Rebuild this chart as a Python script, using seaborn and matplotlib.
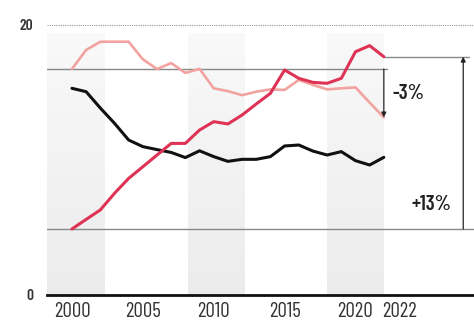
import numpy as np
import pandas as pd
import matplotlib
matplotlib.use("Agg")
import matplotlib.pyplot as plt
import matplotlib.transforms as mtransforms
from matplotlib import font_manager
import seaborn as sns

years = list(range(2000, 2023))
series_pink = [16.74, 18.15, 18.76, 18.76, 18.76, 17.46, 16.74, 17.18, 16.45, 16.75, 15.31, 15.10,
               14.80, 15.06, 15.23, 15.19, 15.93, 15.56, 15.23, 15.31, 15.38, 14.25, 13.16]
series_red = [4.89, 5.60, 6.30, 7.53, 8.64, 9.50, 10.37, 11.23, 11.23, 12.22, 12.84, 12.67,
              13.33, 14.15, 14.94, 16.67, 16.05, 15.75, 15.68, 16.05, 18.02, 18.47, 17.65]
series_black = [15.31, 15.06, 13.85, 12.72, 11.48, 10.99, 10.77, 10.56, 10.18, 10.68, 10.25, 9.90,
                10.05, 10.05, 10.25, 11.04, 11.11, 10.66, 10.37, 10.62, 9.95, 9.63, 10.20]
tick_years = [2000, 2005, 2010, 2015, 2020, 2022]
change_labels = ["-3%", "+13%"]
bands = [(1998.2, 2002.3), (2008.2, 2012.2), (2018.0, 2022.0)]

sns.set_style("white")
available = {f.name for f in font_manager.fontManager.ttflist}
narrow_candidates = ["Barlow Condensed", "Roboto Condensed", "Archivo Narrow",
                     "PT Sans Narrow", "Liberation Sans Narrow", "Roboto"]
narrow = next(n for n in narrow_candidates + ["DejaVu Sans"] if n in available or n == "DejaVu Sans")
plt.rcParams["font.family"] = [narrow, "DejaVu Sans"]

df = pd.DataFrame({
    "year": years * 3,
    "value": series_pink + series_red + series_black,
    "series": ["pink"] * len(years) + ["red"] * len(years) + ["black"] * len(years),
})
palette = {"pink": "#f2a3a0", "red": "#de3355", "black": "#111111"}

fig = plt.figure(figsize=(4.74, 3.25), dpi=100)
ax = fig.add_axes([47 / 474, 30 / 325, 427 / 474, 270 / 325])
x0, x1 = 1998.24, 2028.36
ax.set_xlim(x0, x1)
ax.set_ylim(0, 20)

# shaded decade bands with a soft vertical gradient
grad = np.linspace(0, 1, 100).reshape(-1, 1)
band_cmap = matplotlib.colors.LinearSegmentedColormap.from_list("band", ["#ececec", "#f9f9f9"])
for a, b in bands:
    ax.imshow(grad, extent=(a, b, 0, 19.4), origin="lower", cmap=band_cmap,
              aspect="auto", zorder=0)

# top reference line
ax.axhline(20, color="#999999", lw=0.8, ls=(0, (1, 1)), clip_on=False, zorder=1)

start_pink, end_pink = series_pink[0], series_pink[-1]
start_red, end_red = series_red[0], series_red[-1]
ax.plot([x0, 2022.25], [start_pink, start_pink], color="#888888", lw=1.0, zorder=1)
ax.plot([x0, x1], [start_red, start_red], color="#888888", lw=1.0, zorder=1)
ax.plot([2022.0, 2028.0], [end_red, end_red], color="#888888", lw=1.0, zorder=1)

sns.lineplot(data=df, x="year", y="value", hue="series", palette=palette,
             hue_order=["pink", "black", "red"], legend=False, ax=ax,
             linewidth=2.2, zorder=3)
for line in ax.get_lines()[-3:]:
    if line.get_color() == "#f2a3a0":
        line.set_linewidth(1.9)

ax.annotate("", xy=(2022.0, end_pink), xytext=(2022.0, start_pink),
            arrowprops=dict(arrowstyle="-|>", color="#222222", lw=0.9,
                            mutation_scale=7, shrinkA=0, shrinkB=0), zorder=4)
ax.annotate("", xy=(2027.6, end_red), xytext=(2027.6, start_red),
            arrowprops=dict(arrowstyle="-|>", color="#222222", lw=0.9,
                            mutation_scale=7, shrinkA=0, shrinkB=0), zorder=4)
ax.text(2022.6, 14.96, change_labels[0], fontsize=15, fontweight="semibold",
        color="#222222", ha="left", va="center")
ax.text(2026.75, 6.67, change_labels[1], fontsize=15, fontweight="semibold",
        color="#222222", ha="right", va="center")

for s in ["top", "right", "left"]:
    ax.spines[s].set_visible(False)
ax.spines["bottom"].set_color("#111111")
ax.spines["bottom"].set_linewidth(2.0)

ax.set_xticks(tick_years)
ax.set_xticklabels([str(y) for y in tick_years], fontsize=15, color="#333333")
ax.set_yticks([0, 20])
ax.set_yticklabels(["0", "20"], fontsize=11, color="#333333", fontweight="semibold")
ax.tick_params(axis="x", length=0, pad=5)
ax.tick_params(axis="y", length=0, pad=10)
offset = mtransforms.ScaledTranslation(16 / 100, 0, fig.dpi_scale_trans)
lab = ax.get_xticklabels()[-1]
lab.set_transform(lab.get_transform() + offset)
ax.set_xlabel("")
ax.set_ylabel("")
ax.grid(False)

fig.savefig("out.png", dpi=100)
